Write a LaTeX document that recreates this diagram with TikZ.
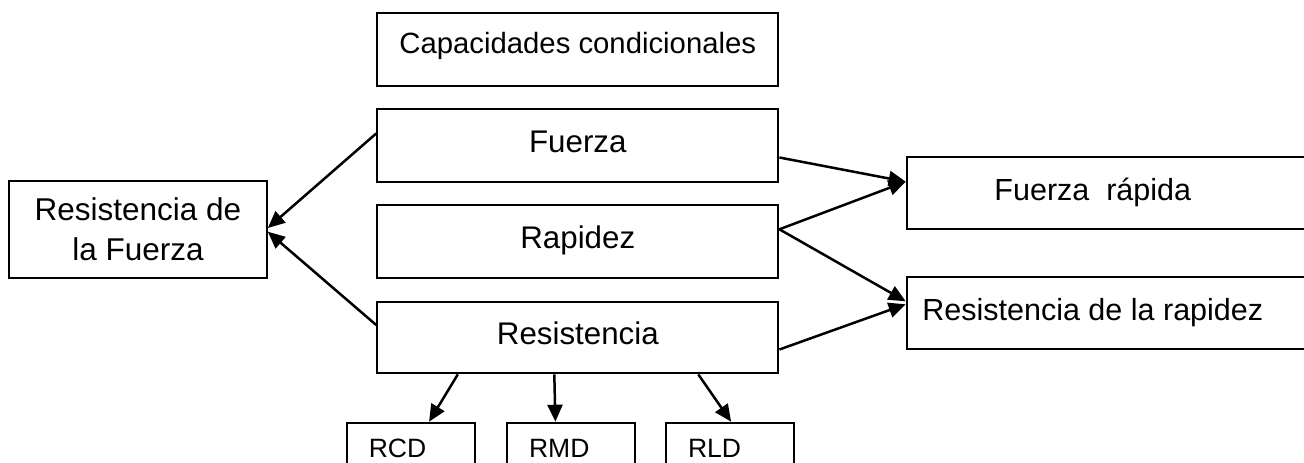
\documentclass[tikz,border=0pt]{standalone}
\usepackage{fontspec}
\setmainfont{Liberation Sans}
\usetikzlibrary{arrows.meta}

\newcommand\captxt{\fontsize{29.3}{36}\selectfont}
\newcommand\bigtxt{\fontsize{31.3}{40}\selectfont}
\newcommand\sidetxt{\fontsize{30.5}{38}\selectfont}
\newcommand\smalltxt{\fontsize{26.5}{30}\selectfont}

\begin{document}
\begin{tikzpicture}[>={Triangle[length=17pt,width=15pt]},x=1pt,y=-1pt,line width=2.5pt,
        frame/.style={draw,line width=2.2pt,inner sep=0pt,font=\bigtxt},
        box/.style={frame,text height=23pt,text depth=8.6pt},
        sidebox/.style={box,font=\sidetxt,anchor=west,minimum width=424pt},
        subbox/.style={draw,line width=2.2pt,anchor=north west,font=\smalltxt,text width=84pt,align=left,
            inner xsep=22pt,inner ysep=15pt,text height=19.5pt,text depth=6.5pt}]
        \clip(0,0)rectangle(1304,463);
        \node[box,font=\captxt,text height=22pt,text depth=14.4pt,minimum width=401pt,minimum height=72.4pt](cap) at(577.8,49.5){Capacidades condicionales};
        \node[box,minimum width=401pt,minimum height=72.4pt](fuerza) at(577.8,145.5){Fuerza};
        \node[box,minimum width=401pt,minimum height=72.7pt](rapidez) at(577.8,241.3){Rapidez};
        \node[box,minimum width=401pt,minimum height=71.6pt](resist) at(577.8,337.5){Resistencia};
        \node[frame,font=\fontsize{31.5}{40}\selectfont,align=center,minimum width=257.4pt,minimum height=96.7pt](resf) at(138,229.3){Resistencia de\\la Fuerza};
        \node[sidebox,minimum height=71.7pt](frap) at(905.7,193.2){\hspace*{-52pt}Fuerza\ \ rápida};
        \node[sidebox,minimum height=72pt](rrap) at(905.7,313.3){\hspace*{-52pt}Resistencia de la rapidez};
        \node[subbox](rcd) at(345.7,421.7){RCD};
        \node[subbox](rmd) at(506,421.7){RMD};
        \node[subbox](rld) at(665,421.7){RLD};
        \draw[->]([yshift=12pt]fuerza.west)--([yshift=1.3pt]resf.east);
        \draw[->]([yshift=12.5pt]resist.west)--([yshift=-2.4pt]resf.east);
        \draw[->]([yshift=-12pt]fuerza.east)--([yshift=11.5pt]frap.west);
        \draw[->]([yshift=12pt]rapidez.east)--([yshift=11.5pt]frap.west);
        \draw[->]([yshift=12pt]rapidez.east)--([yshift=12pt]rrap.west);
        \draw[->]([yshift=-12pt]resist.east)--([yshift=9pt]rrap.west);
        \draw[->]([xshift=-120pt]resist.south)--([xshift=18.3pt]rcd.north);
        \draw[->]([xshift=-23.5pt]resist.south)--([xshift=-15.7pt]rmd.north);
        \draw[->]([xshift=120.5pt]resist.south)--([xshift=1pt]rld.north);
\end{tikzpicture}
\end{document}
